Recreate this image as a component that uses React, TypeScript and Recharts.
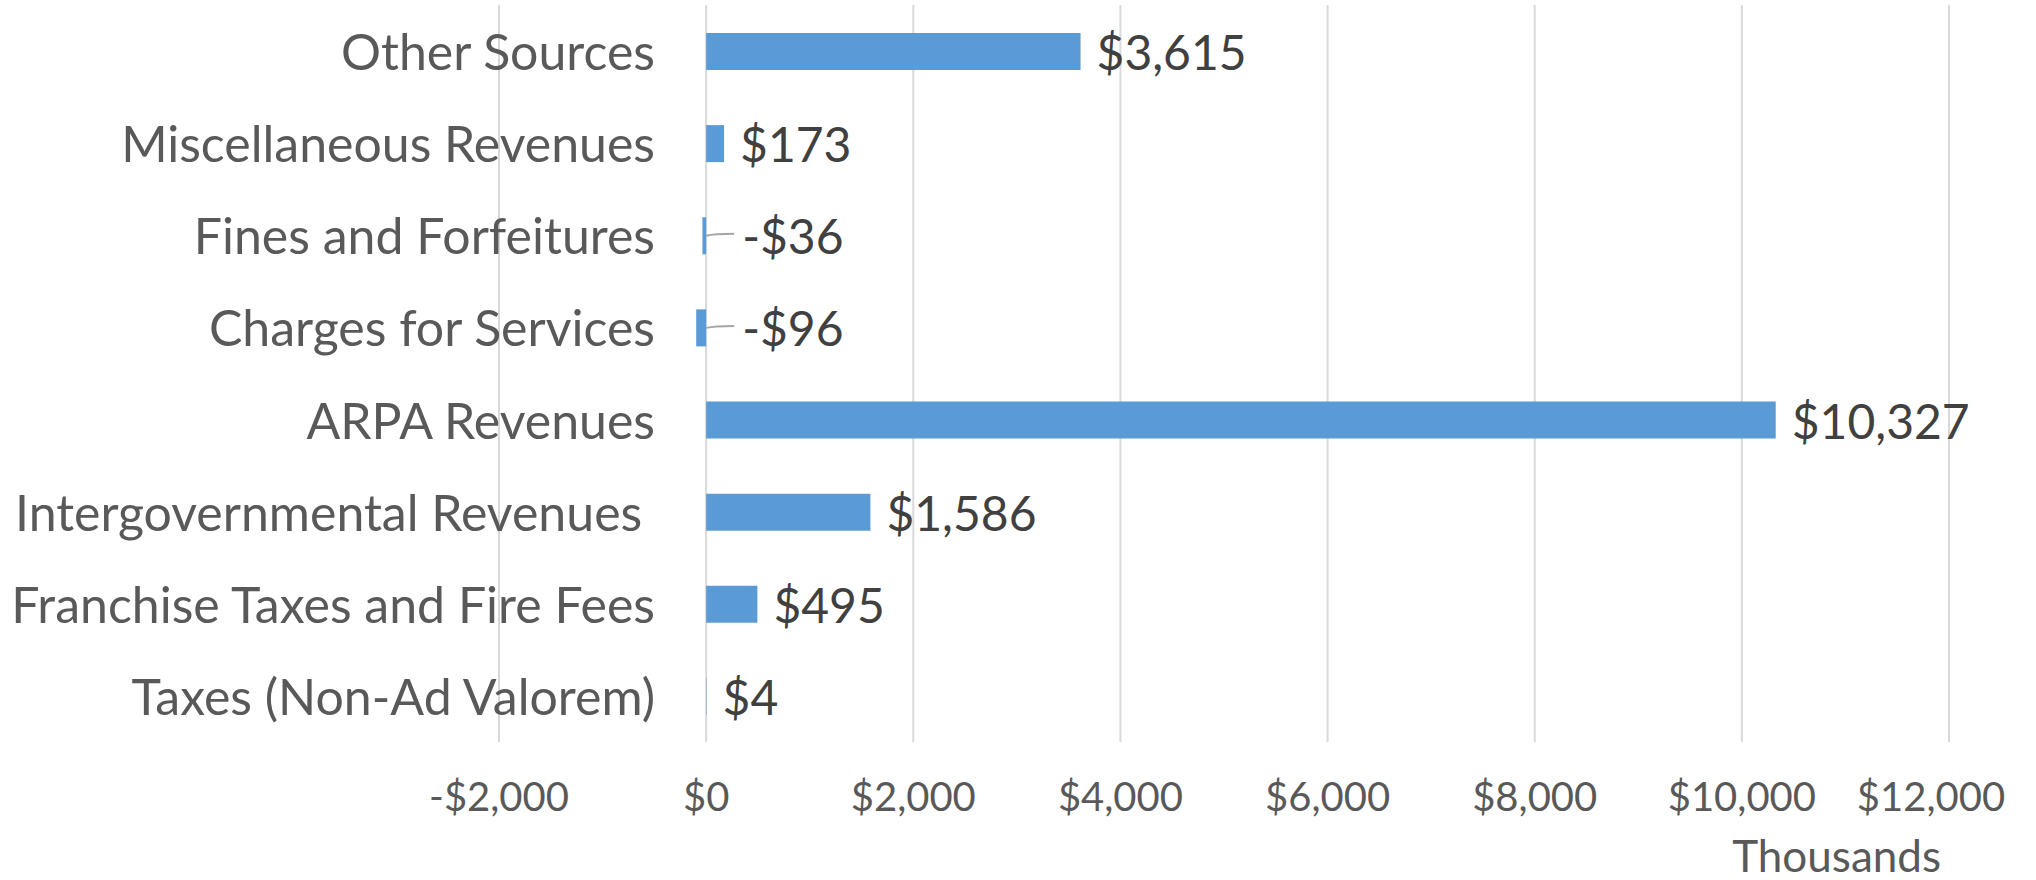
import { BarChart, Bar, XAxis, YAxis, CartesianGrid, LabelList } from "recharts";

const categories = [
  "Other Sources",
  "Miscellaneous Revenues",
  "Fines and Forfeitures",
  "Charges for Services",
  "ARPA Revenues",
  "Intergovernmental Revenues ",
  "Franchise Taxes and Fire Fees",
  "Taxes (Non-Ad Valorem)",
];
const values = [3615, 173, -36, -96, 10327, 1586, 495, 4];
const xTicks = [-2000, 0, 2000, 4000, 6000, 8000, 10000, 12000];

const data = categories.map((name, i) => ({ name, value: values[i] }));

const FONT = "Lato, 'Open Sans', sans-serif";

const money = (v: number) =>
  (v < 0 ? "-$" : "$") + Math.abs(v).toLocaleString("en-US");

function CategoryTick(props: any) {
  const { x, y, payload } = props;
  return (
    <text
      x={x + 164}
      y={y}
      textAnchor="end"
      dominantBaseline="central"
      fill="#595959"
      fontSize={50}
      fontFamily={FONT}
      style={{ whiteSpace: "pre" }}
    >
      {payload.value}
    </text>
  );
}

// last tick label is nudged left so it stays inside the chart, like Excel does
function ValueTick(props: any) {
  const { x, y, payload, index } = props;
  const shift = index === xTicks.length - 1 ? -18 : 0;
  return (
    <text
      x={x + shift}
      y={y}
      dy="0.71em"
      textAnchor="middle"
      fill="#595959"
      fontSize={40}
      fontFamily={FONT}
    >
      {money(payload.value)}
    </text>
  );
}

function ValueLabel(props: any) {
  const { x, y, width, height, value } = props;
  const cy = y + height / 2;
  if (value < 0) {
    const x0 = Math.max(x, x + width);
    return (
      <g>
        <path
          d={`M${x0} ${cy} Q${x0 + 8} ${cy - 2} ${x0 + 28} ${cy - 2}`}
          stroke="#a6a6a6"
          strokeWidth={2}
          fill="none"
        />
        <text
          x={x0 + 36}
          y={cy}
          dominantBaseline="central"
          fill="#404040"
          fontSize={48}
          fontFamily={FONT}
        >
          {money(value)}
        </text>
      </g>
    );
  }
  return (
    <text
      x={x + width + 16}
      y={cy}
      dominantBaseline="central"
      fill="#404040"
      fontSize={48}
      fontFamily={FONT}
    >
      {money(value)}
    </text>
  );
}

export default function App() {
  return (
    <div style={{ position: "absolute", left: 0, top: 0, background: "#fff" }}>
      <BarChart
        width={2036}
        height={880}
        data={data}
        layout="vertical"
        margin={{ top: 5, right: 87, left: 0, bottom: 0 }}
        barSize={37}
      >
        <CartesianGrid stroke="#d9d9d9" strokeWidth={2} horizontal={false} />
        <XAxis
          type="number"
          domain={[-2000, 12000]}
          ticks={xTicks}
          axisLine={false}
          tickLine={false}
          tickSize={0}
          tickMargin={41}
          height={138}
          tick={<ValueTick />}
          label={{
            value: "Thousands",
            position: "insideBottomRight",
            offset: 8,
            fill: "#595959",
            fontSize: 44,
            fontFamily: FONT,
          }}
        />
        <YAxis
          type="category"
          dataKey="name"
          width={499}
          axisLine={false}
          tickLine={false}
          tick={<CategoryTick />}
        />
        <Bar dataKey="value" fill="#5b9bd5" isAnimationActive={false}>
          <LabelList dataKey="value" content={<ValueLabel />} />
        </Bar>
      </BarChart>
    </div>
  );
}
